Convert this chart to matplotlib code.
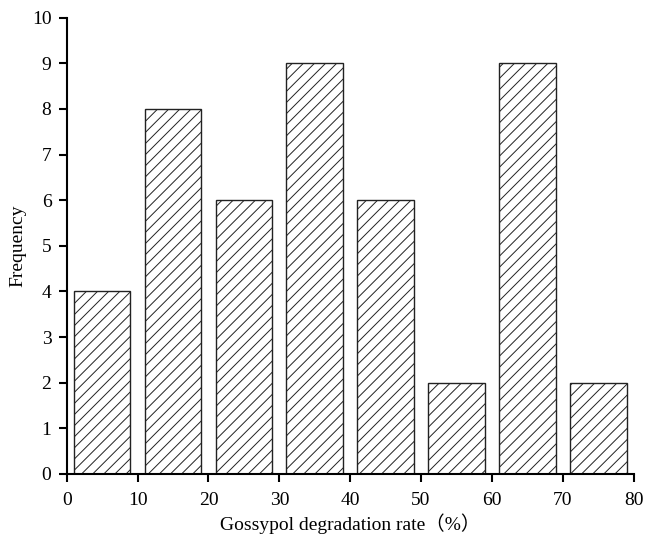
import matplotlib
matplotlib.use('Agg')
import matplotlib.pyplot as plt
import numpy as np

bin_centers = [5, 15, 25, 35, 45, 55, 65, 75]
counts = [4, 8, 6, 9, 6, 2, 9, 2]
x_ticks = [0, 10, 20, 30, 40, 50, 60, 70, 80]
y_ticks = list(range(0, 11))

plt.rcParams['font.family'] = ['Liberation Serif', 'Noto Sans CJK SC']
plt.rcParams['hatch.linewidth'] = 0.7
plt.rcParams['hatch.color'] = '#444444'

fig = plt.figure(figsize=(6.52, 5.47), dpi=100)
ax = fig.add_axes([0.1023, 0.1335, 0.8696, 0.8341])

ax.bar(bin_centers, counts, width=8, color='white', edgecolor='#222222',
       linewidth=1.0, hatch='///')

ax.set_xlim(0, 80)
ax.set_ylim(0, 10)
ax.set_xticks(x_ticks)
ax.set_yticks(y_ticks)
ax.spines['top'].set_visible(False)
ax.spines['right'].set_visible(False)
for s in ['left', 'bottom']:
    ax.spines[s].set_linewidth(1.5)
ax.tick_params(direction='out', length=6, width=1.5, labelsize=14, pad=5)
ax.tick_params(axis='x', pad=7)

ax.set_xlabel('Gossypol degradation rate（%）', fontsize=14, labelpad=3)
ax.set_ylabel('Frequency', fontsize=14, labelpad=4)

fig.savefig('out.png', dpi=100)
